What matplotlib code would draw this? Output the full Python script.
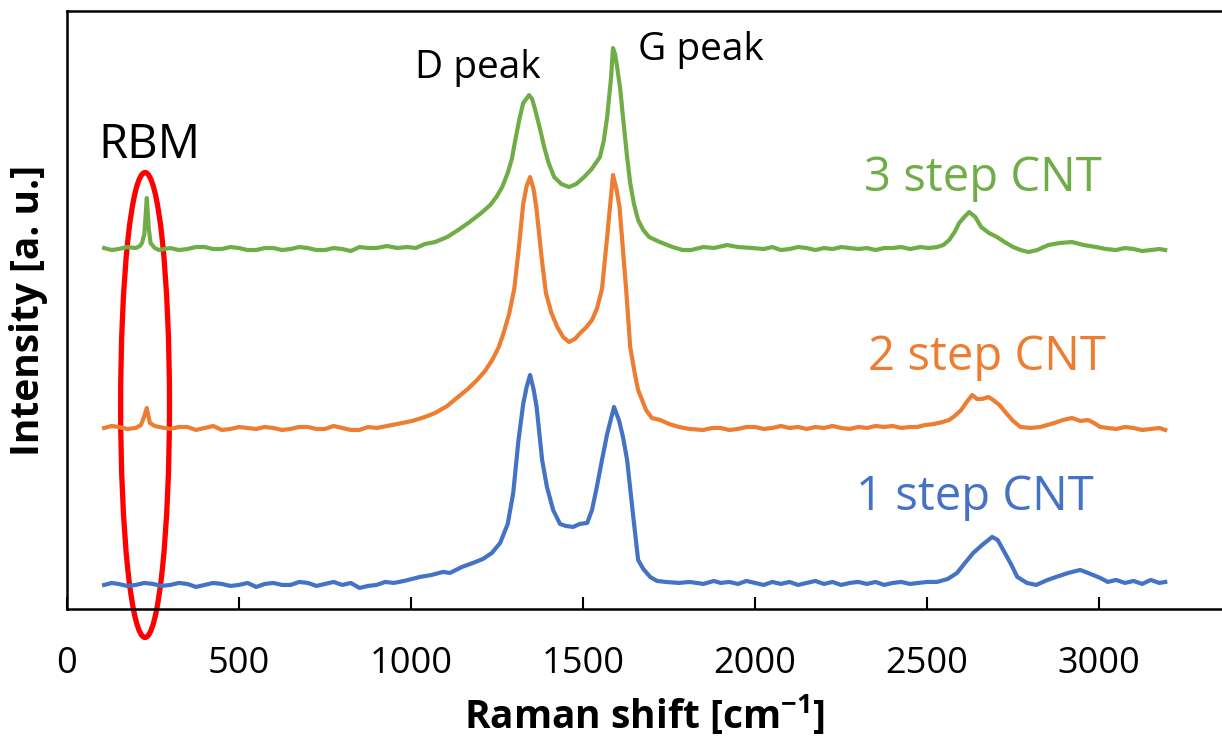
import matplotlib
matplotlib.use('Agg')
import matplotlib.pyplot as plt
from matplotlib.patches import Ellipse

plt.rcParams['font.family'] = ['Open Sans', 'DejaVu Sans']
plt.rcParams['mathtext.fontset'] = 'custom'
plt.rcParams['mathtext.rm'] = 'Open Sans'
plt.rcParams['mathtext.bf'] = 'Open Sans:bold'

# Raman spectra (intensity in arbitrary units, offset per sample)
x_1step = [108, 130, 150, 175, 200, 225, 250, 275, 300, 325, 350, 375, 400, 425, 450, 475, 500,
           525, 550, 575, 600, 625, 650, 675, 700, 725, 750, 775, 800, 825, 850, 875, 900, 925,
           950, 980, 1026, 1060, 1093, 1113, 1148, 1180, 1209, 1235, 1259, 1281, 1297, 1312, 1326,
           1336, 1346, 1356, 1365, 1381, 1395, 1413, 1433, 1450, 1471, 1490, 1512, 1526, 1540, 1555,
           1570, 1590, 1605, 1616, 1628, 1645, 1660, 1675, 1695, 1715, 1740, 1779, 1810, 1850, 1880,
           1900, 1925, 1950, 1975, 2000, 2025, 2050, 2075, 2100, 2125, 2150, 2175, 2200, 2225, 2250,
           2275, 2300, 2325, 2350, 2375, 2400, 2425, 2450, 2475, 2500, 2529, 2560, 2587, 2610, 2634,
           2660, 2689, 2705, 2726, 2745, 2762, 2790, 2817, 2850, 2875, 2910, 2945, 2975, 3003, 3025,
           3049, 3075, 3100, 3125, 3150, 3175, 3192]
y_1step = [24, 26, 25, 23, 24, 26, 25, 23, 24, 26, 25, 22, 24, 26, 25, 23, 24,
           26, 22, 25, 26, 24, 24, 27, 26, 23, 25, 27, 24, 26, 21, 23, 24, 27,
           26, 28, 32, 34, 37, 36, 42, 46, 50, 56, 66, 85, 116, 168, 205,
           222, 234, 220, 202, 149, 122, 99, 85, 83, 82, 85, 86, 99, 122, 149,
           175, 202, 188, 172, 149, 95, 49, 40, 32, 28, 27, 26, 27, 25, 28,
           26, 27, 25, 28, 26, 24, 27, 25, 27, 24, 26, 28, 25, 27, 24,
           26, 27, 25, 27, 24, 26, 27, 25, 26, 27, 27, 30, 36, 46, 56,
           64, 72, 69, 56, 44, 32, 26, 24, 29, 32, 36, 39, 35, 31, 27,
           29, 26, 28, 25, 29, 26, 27]

x_2step = [108, 130, 150, 175, 200, 215, 224, 232, 241, 255, 268, 300, 325, 350, 375, 400, 425,
           450, 475, 500, 525, 550, 575, 600, 625, 650, 675, 700, 725, 750, 775, 800, 825, 850,
           875, 900, 930, 960, 1003, 1040, 1070, 1105, 1137, 1165, 1192, 1215, 1236, 1255, 1270,
           1285, 1300, 1313, 1326, 1336, 1346, 1356, 1364, 1380, 1392, 1408, 1425, 1442, 1459, 1476,
           1492, 1510, 1526, 1540, 1555, 1570, 1587, 1597, 1606, 1626, 1637, 1650, 1660, 1683, 1700,
           1724, 1750, 1779, 1810, 1849, 1875, 1900, 1925, 1950, 1975, 2000, 2025, 2050, 2075, 2100,
           2125, 2150, 2175, 2200, 2225, 2250, 2275, 2300, 2325, 2350, 2375, 2400, 2425, 2450, 2471,
           2495, 2520, 2545, 2564, 2580, 2599, 2615, 2631, 2645, 2660, 2678, 2692, 2710, 2727, 2750,
           2771, 2800, 2829, 2850, 2870, 2895, 2921, 2945, 2968, 2985, 3003, 3025, 3050, 3075, 3100,
           3125, 3150, 3175, 3192]
y_2step = [181, 183, 182, 180, 181, 184, 192, 201, 186, 183, 182, 180, 182, 182, 179, 181, 183,
           179, 180, 182, 181, 180, 182, 181, 179, 180, 182, 182, 180, 180, 183, 181, 179, 179,
           182, 181, 183, 185, 188, 192, 196, 203, 212, 220, 229, 238, 249, 262, 277,
           295, 320, 360, 405, 423, 432, 420, 402, 350, 316, 296, 282, 272, 267, 270,
           276, 282, 289, 300, 320, 372, 434, 420, 402, 316, 262, 236, 219, 199, 191,
           189, 185, 182, 180, 179, 181, 181, 179, 180, 182, 182, 180, 181, 183, 181,
           182, 180, 182, 181, 183, 181, 180, 182, 181, 183, 182, 183, 181, 182, 182,
           184, 185, 187, 189, 193, 199, 207, 214, 210, 210, 212, 209, 204, 197, 188,
           182, 181, 182, 184, 186, 189, 191, 188, 189, 186, 182, 181, 180, 182, 181,
           179, 180, 181, 179]

x_3step = [108, 130, 150, 175, 200, 212, 218, 225, 232, 238, 243, 255, 268, 300, 325, 350, 375,
           400, 425, 450, 475, 500, 525, 550, 575, 600, 625, 650, 675, 700, 725, 750, 775, 800,
           825, 850, 875, 900, 930, 960, 990, 1014, 1040, 1070, 1105, 1137, 1170, 1204, 1230, 1248,
           1265, 1281, 1293, 1303, 1315, 1326, 1343, 1352, 1361, 1375, 1387, 1400, 1416, 1437, 1459,
           1480, 1503, 1525, 1549, 1560, 1570, 1581, 1587, 1593, 1599, 1608, 1616, 1627, 1637, 1648,
           1660, 1675, 1692, 1723, 1760, 1790, 1814, 1850, 1880, 1919, 1950, 1992, 2025, 2050, 2075,
           2100, 2125, 2150, 2175, 2200, 2225, 2250, 2275, 2300, 2325, 2350, 2375, 2400, 2425, 2450,
           2480, 2505, 2529, 2547, 2564, 2580, 2593, 2608, 2622, 2640, 2657, 2680, 2703, 2725, 2750,
           2772, 2794, 2820, 2852, 2885, 2921, 2955, 2991, 3020, 3049, 3075, 3100, 3125, 3150, 3175,
           3192]
y_3step = [361, 359, 360, 362, 361, 363, 366, 375, 411, 380, 366, 361, 359, 361, 359, 360, 362,
           362, 360, 360, 362, 361, 359, 359, 361, 361, 359, 360, 362, 361, 359, 359, 361, 360,
           358, 362, 361, 361, 363, 361, 362, 361, 365, 367, 372, 379, 387, 396, 404, 412,
           422, 436, 450, 469, 490, 506, 514, 510, 499, 480, 462, 446, 432, 425, 422,
           425, 432, 440, 452, 468, 492, 530, 561, 555, 542, 520, 492, 455, 426, 405,
           389, 379, 372, 367, 362, 359, 359, 362, 361, 364, 362, 361, 360, 362, 359,
           360, 362, 361, 359, 361, 360, 362, 361, 360, 361, 359, 361, 361, 362, 360,
           362, 361, 362, 364, 369, 377, 386, 392, 397, 392, 382, 376, 372, 367, 362,
           359, 357, 359, 364, 366, 367, 364, 362, 360, 359, 361, 360, 358, 359, 360,
           359]

labels = ['1 step CNT', '2 step CNT', '3 step CNT']
colors = ['#4472C4', '#ED7D31', '#70AD47']
x_ticks = [0, 500, 1000, 1500, 2000, 2500, 3000]

fig = plt.figure(figsize=(12.22, 7.39), dpi=100)
ax = fig.add_axes([0.0548, 0.176, 0.9452, 0.809])

ax.plot(x_1step, y_1step, color=colors[0], lw=3.0)
ax.plot(x_2step, y_2step, color=colors[1], lw=3.0)
ax.plot(x_3step, y_3step, color=colors[2], lw=3.0)

ax.set_xlim(0, 3357)
ax.set_ylim(0, 598)
ax.set_xticks(x_ticks)
ax.set_yticks([])
ax.tick_params(axis='x', direction='in', length=9, width=1.5, labelsize=26, pad=27)

for s in ['left', 'bottom', 'top']:
    ax.spines[s].set_linewidth(1.8)
ax.spines['right'].set_visible(False)

ax.set_xlabel('Raman shift [cm$^{\\mathbf{-1}}$]', fontsize=28, fontweight='bold', labelpad=8)
ax.set_ylabel('Intensity [a. u.]', fontsize=28, fontweight='bold', labelpad=14)

# annotations
ax.text(1195, 541, 'D peak', fontsize=28, ha='center', va='center')
ax.text(1660, 559, 'G peak', fontsize=28, ha='left', va='center')
ax.text(241, 464, 'RBM', fontsize=34, ha='center', va='center')
ax.text(2663, 431, labels[2], fontsize=34, color=colors[2], ha='center', va='center')
ax.text(2674, 252, labels[1], fontsize=34, color=colors[1], ha='center', va='center')
ax.text(2640, 112, labels[0], fontsize=34, color=colors[0], ha='center', va='center')

ax.add_patch(Ellipse((227, 204), width=142, height=465, fill=False,
                     edgecolor='#FF0000', lw=3.8, clip_on=False))

fig.savefig('out.png', dpi=100)
